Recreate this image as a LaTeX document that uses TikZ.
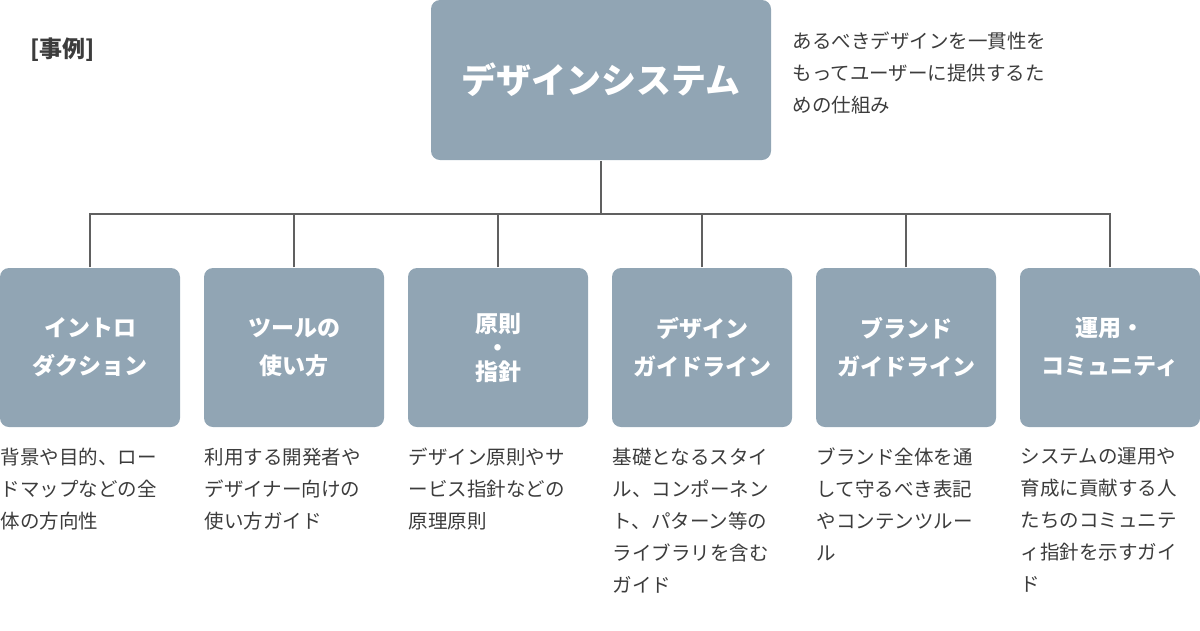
\documentclass[tikz,border=0pt]{standalone}
\usepackage{fontspec}
\setmainfont{Noto Sans CJK JP}
\usetikzlibrary{positioning}
\definecolor{boxgray}{HTML}{91A5B4}
\definecolor{txtgray}{HTML}{3C3C3C}
\definecolor{linegray}{HTML}{606060}
\begin{document}
\begin{tikzpicture}[
            x = 1pt, y = -1pt, % pixel units
            line width = 1.5pt
        ]

        \tikzstyle{box}=[
            fill = boxgray,
            rounded corners = 9pt,
            text = white,
            font = \bfseries\fontsize{23}{38}\selectfont,
            align = center,
            minimum width = 180pt,
            minimum height = 159pt
        ]
        \tikzstyle{note}=[
            text = txtgray,
            font = \fontsize{19.5}{32}\selectfont,
            align = left,
            anchor = north west,
            inner sep = 0pt
        ]

        \useasboundingbox (0,0) rectangle (1200,630);

        \node[text=txtgray, font=\bfseries\fontsize{23}{28}\selectfont, anchor=west, inner sep=0pt] (label) at (30,50) {[事例]};

        \node[box, minimum width=340pt, minimum height=160pt, font=\bfseries\fontsize{35}{40}\selectfont] (top) at (601,80) {デザインシステム};
        \node[note] (topnote) at (792,31) {あるべきデザインを一貫性を\\もってユーザーに提供するた\\めの仕組み};

        \node[box] (b1) at (90,347.5)   {イントロ\\ダクション};
        \node[box] (b2) at (294,347.5)  {ツールの\\使い方};
        \node[box, font=\bfseries\fontsize{23}{24}\selectfont] (b3) at (498,347.5) {原則\\・\\指針};
        \node[box] (b4) at (702,347.5)  {デザイン\\ガイドライン};
        \node[box] (b5) at (906,347.5)  {ブランド\\ガイドライン};
        \node[box] (b6) at (1110,347.5) {運用・\\コミュニティ};

        \node[note] (n1) at (0,447)    {背景や目的、ロー\\ドマップなどの全\\体の方向性};
        \node[note] (n2) at (204,447)  {利用する開発者や\\デザイナー向けの\\使い方ガイド};
        \node[note] (n3) at (408,447)  {デザイン原則やサ\\ービス指針などの\\原理原則};
        \node[note] (n4) at (612,447)  {基礎となるスタイ\\ル、コンポーネン\\ト、パターン等の\\ライブラリを含む\\ガイド};
        \node[note] (n5) at (816,447)  {ブランド全体を通\\して守るべき表記\\やコンテンツルー\\ル};
        \node[note] (n6) at (1020,447) {システムの運用や\\育成に貢献する人\\たちのコミュニテ\\ィ指針を示すガイ\\ド};

        \coordinate (hub) at (601,214);
        \draw[linegray] (top.south) -- (hub);
        \foreach \b in {b1,b2,b3,b4,b5,b6}
            \draw[linegray] (\b.north) |- (hub);

  \end{tikzpicture}
\end{document}
